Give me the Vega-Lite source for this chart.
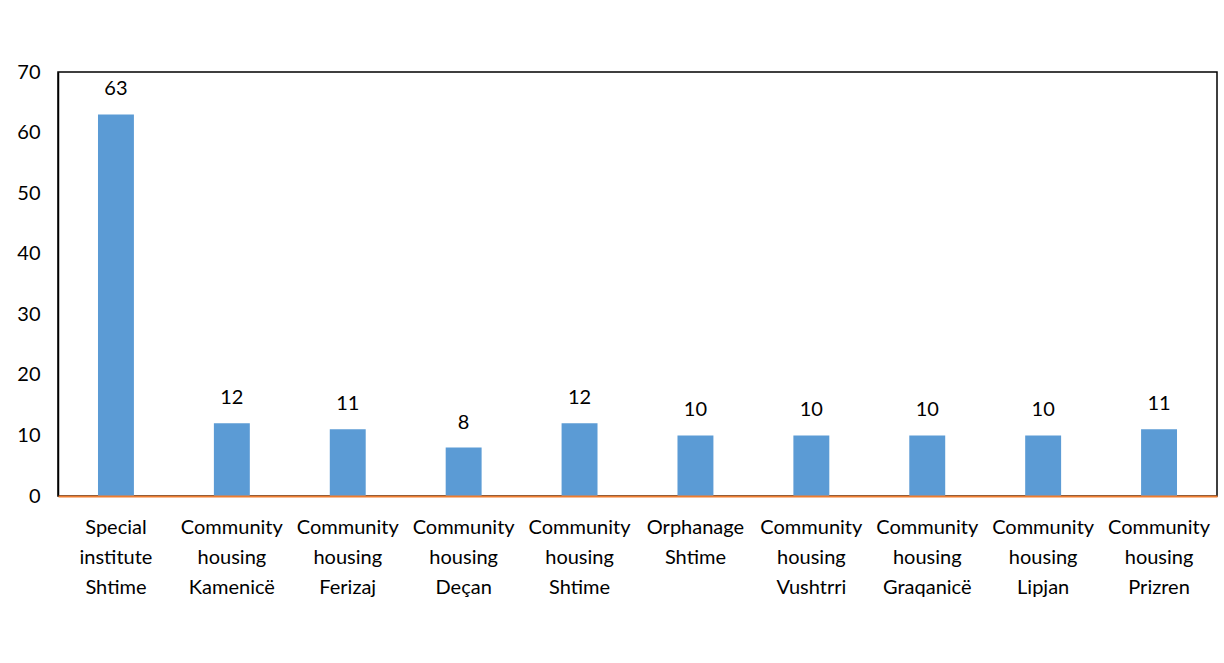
{
  "$schema": "https://vega.github.io/schema/vega-lite/v6.json",
  "width": 1159,
  "height": 424,
  "autosize": {"type": "none"},
  "padding": {"left": 58, "top": 72, "right": 7, "bottom": 167},
  "background": "white",
  "config": {
    "font": "Lato",
    "view": {"stroke": "#000000", "strokeWidth": 1.5},
    "axis": {"grid": false, "ticks": false, "labelColor": "#000000", "labelFont": "Lato", "labelFontSize": 20, "title": null}
  },
  "data": {
    "values": [
      {"place": "Special institute Shtime", "value": 63},
      {"place": "Community housing Kamenicë", "value": 12},
      {"place": "Community housing Ferizaj", "value": 11},
      {"place": "Community housing Deçan", "value": 8},
      {"place": "Community housing Shtime", "value": 12},
      {"place": "Orphanage Shtime", "value": 10},
      {"place": "Community housing Vushtrri", "value": 10},
      {"place": "Community housing Graqanicë", "value": 10},
      {"place": "Community housing Lipjan", "value": 10},
      {"place": "Community housing Prizren", "value": 11}
    ]
  },
  "encoding": {
    "x": {
      "field": "place",
      "type": "nominal",
      "sort": null,
      "scale": {"paddingInner": 0.69, "paddingOuter": 0.345},
      "axis": {
        "labelAngle": 0,
        "labelExpr": "split(datum.label, ' ')",
        "labelLineHeight": 30,
        "labelPadding": 21,
        "labelBaseline": "top",
        "domainColor": "#ED7D31",
        "domainWidth": 2,
        "zindex": 1
      }
    },
    "y": {
      "field": "value",
      "type": "quantitative",
      "scale": {"domain": [0, 70]},
      "axis": {"values": [0, 10, 20, 30, 40, 50, 60, 70], "labelPadding": 18, "domainColor": "#000000", "domainWidth": 1.5}
    }
  },
  "layer": [
    {"mark": {"type": "bar", "color": "#5B9BD5"}},
    {
      "mark": {"type": "text", "dy": -25, "fontSize": 20, "color": "#000000", "font": "Lato"},
      "encoding": {"text": {"field": "value", "type": "quantitative"}}
    }
  ]
}
